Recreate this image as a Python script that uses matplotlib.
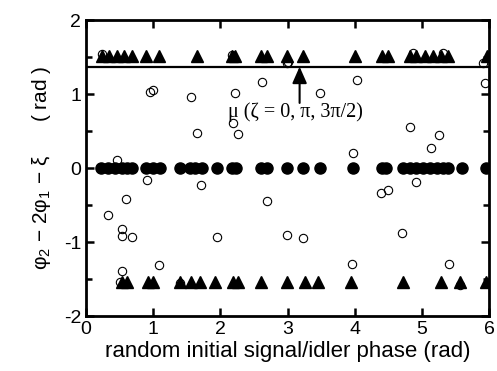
import matplotlib
matplotlib.use("Agg")
import matplotlib.pyplot as plt
from matplotlib.ticker import MultipleLocator

plt.rcParams['mathtext.fontset'] = 'custom'
plt.rcParams['mathtext.rm'] = 'Liberation Sans'
plt.rcParams['mathtext.it'] = 'Liberation Sans'
plt.rcParams['axes.unicode_minus'] = False

# Triangles at +pi/2-ish level
tri_top_x = [0.24, 0.34, 0.46, 0.56, 0.68, 0.89, 1.09, 1.65, 2.17, 2.22, 2.61, 2.69,
             2.99, 3.23, 4.00, 4.40, 4.50, 4.82, 4.92, 5.04, 5.17, 5.29, 5.39, 5.97]
tri_top_y = [1.52] * len(tri_top_x)

# Triangles at -pi/2-ish level
tri_bot_x = [0.53, 0.61, 0.93, 1.00, 1.40, 1.57, 1.70, 1.92, 2.19, 2.27, 2.61, 2.99,
             3.26, 3.46, 3.95, 4.72, 5.29, 5.57, 5.95]
tri_bot_y = [-1.54] * len(tri_bot_x)

# Filled circles at zero
dot_x = [0.23, 0.33, 0.43, 0.53, 0.61, 0.68, 0.90, 1.00, 1.10, 1.40, 1.55, 1.62, 1.72,
         1.95, 2.17, 2.24, 2.61, 2.69, 2.99, 3.23, 3.48, 3.97, 4.40, 4.47, 4.72, 4.82,
         4.92, 5.02, 5.12, 5.22, 5.32, 5.39, 5.59, 5.95]
dot_y = [0.0] * len(dot_x)

# Open circles (scattered)
open_x = [0.24, 0.95, 1.00, 1.57, 2.22, 2.62, 3.00, 3.48, 4.03, 5.94,
          1.65, 2.19, 4.82, 2.26, 5.25, 5.13, 3.97, 0.46, 0.91, 1.71,
          4.91, 0.60, 2.69, 4.39, 4.49, 0.33, 0.54, 0.54, 0.68, 1.95,
          2.99, 3.23, 4.70, 0.54, 1.09, 3.96, 5.40, 0.51, 1.40, 5.57,
          2.17, 2.99, 4.87, 5.31, 5.91]
open_y = [1.54, 1.03, 1.05, 0.96, 1.01, 1.16, 1.43, 1.01, 1.19, 1.15,
          0.48, 0.61, 0.56, 0.46, 0.45, 0.27, 0.20, 0.11, -0.16, -0.23,
          -0.19, -0.42, -0.45, -0.34, -0.30, -0.64, -0.82, -0.92, -0.93, -0.93,
          -0.90, -0.95, -0.88, -1.39, -1.31, -1.30, -1.30, -1.54, -1.55, -1.58,
          1.53, 1.42, 1.55, 1.55, 1.42]

mu_level = 1.37
arrow_x = 3.18

fig = plt.figure(figsize=(4.97, 3.71), dpi=100)
ax = fig.add_axes([0.173, 0.148, 0.811, 0.798])

ax.plot(open_x, open_y, 'o', mfc='none', mec='black', mew=0.8, ms=6, zorder=3)
ax.plot(dot_x, dot_y, 'o', color='black', ms=8, zorder=4)
ax.plot(tri_top_x, tri_top_y, '^', color='black', ms=8, zorder=4)
ax.plot(tri_bot_x, tri_bot_y, '^', color='black', ms=8, zorder=4)
ax.axhline(mu_level, color='black', lw=1.6, zorder=2)

ax.annotate('', xy=(arrow_x, mu_level), xytext=(arrow_x, 0.88),
            arrowprops=dict(arrowstyle='-|>,head_length=0.5,head_width=0.22',
                            color='black', lw=1.5,
                            mutation_scale=20, shrinkA=0, shrinkB=0))
ax.text(2.11, 0.76, r'μ (ζ = 0, π, 3π/2)', family='Liberation Serif',
        fontsize=14.5, va='center', ha='left')

ax.set_xlim(0, 6)
ax.set_ylim(-2, 2)
ax.xaxis.set_major_locator(MultipleLocator(1))
ax.yaxis.set_major_locator(MultipleLocator(1))
ax.yaxis.set_minor_locator(MultipleLocator(0.5))
ax.tick_params(which='both', direction='in', top=True, right=True,
               labelsize=14, width=1.8)
ax.tick_params(which='major', length=6)
ax.tick_params(which='minor', length=4)
for lab in ax.get_xticklabels() + ax.get_yticklabels():
    lab.set_family('Liberation Sans')
for s in ax.spines.values():
    s.set_linewidth(2)

ax.set_xlabel('random initial signal/idler phase (rad)', family='Liberation Sans',
              fontsize=16, labelpad=2)
ax.set_ylabel('φ$_2$ − 2φ$_1$ − ξ      ( rad )',
              family='Liberation Sans', fontsize=15, labelpad=8)

fig.savefig('out.png', dpi=100)
